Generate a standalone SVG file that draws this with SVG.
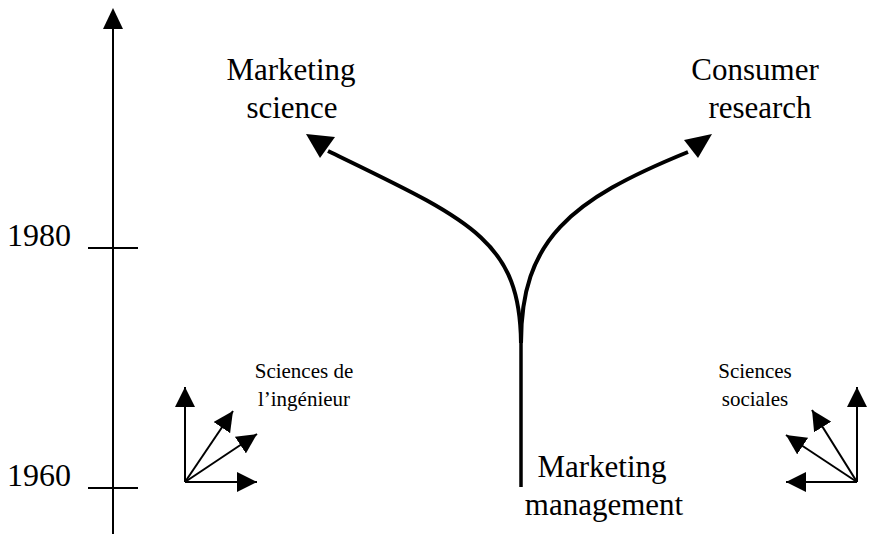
<svg xmlns="http://www.w3.org/2000/svg" width="893" height="534" viewBox="0 0 893 534">
<style>
text{font-family:"Liberation Serif","Times New Roman",serif;fill:#000}
.big{font-size:31px}
.year{font-size:32px}
.small{font-size:21px}
.thin{stroke:#000;stroke-width:2;fill:none}
.thick{stroke:#000;stroke-width:4;fill:none}
.head{fill:#000}
</style>
<defs>
<marker id="ah" markerUnits="userSpaceOnUse" viewBox="0 0 20 20" markerWidth="20" markerHeight="20" refX="20" refY="10" orient="auto">
<path d="M0,0 L20,10 L0,20 z" fill="#000"/>
</marker>
</defs>
<rect width="893" height="534" fill="#fff"/>
<g id="axis">
<line class="thin" x1="113" y1="534" x2="113" y2="28"/>
<polygon class="head" points="113,8 103,29 123,29"/>
<line class="thin" x1="88" y1="248" x2="138" y2="248"/>
<line class="thin" x1="88" y1="488" x2="138" y2="488"/>
<text class="year" x="7" y="246">1980</text>
<text class="year" x="7" y="486">1960</text>
</g>
<g id="connectors">
<line x1="521" y1="487" x2="521" y2="341" stroke="#000" stroke-width="3.5"/>
<path class="thick" d="M521,343 C520,240 470,220 328,151"/>
<path class="thick" d="M521,343 C521,240 570,200 688,152"/>
<polygon class="head" points="306,134 335,137 320,158"/>
<polygon class="head" points="684,140 712,134 698,158"/>
</g>
<g id="node-marketing-science">
<text class="big" x="291" y="80" text-anchor="middle">Marketing</text>
<text class="big" x="292" y="118" text-anchor="middle">science</text>
</g>
<g id="node-consumer-research">
<text class="big" x="755" y="80" text-anchor="middle">Consumer</text>
<text class="big" x="760" y="118" text-anchor="middle">research</text>
</g>
<g id="node-marketing-management">
<text class="big" x="602" y="477" text-anchor="middle">Marketing</text>
<text class="big" x="604" y="515" text-anchor="middle">management</text>
</g>
<g id="node-sciences-ingenieur">
<text class="small" x="304" y="378" text-anchor="middle">Sciences de</text>
<text class="small" x="304" y="406" text-anchor="middle">l’ingénieur</text>
<line class="thin" x1="185" y1="482" x2="185" y2="387" marker-end="url(#ah)"/>
<line class="thin" x1="185" y1="482" x2="257" y2="482" marker-end="url(#ah)"/>
<line class="thin" x1="185" y1="482" x2="233" y2="411" marker-end="url(#ah)"/>
<line class="thin" x1="185" y1="482" x2="257" y2="434" marker-end="url(#ah)"/>
</g>
<g id="node-sciences-sociales">
<text class="small" x="755" y="378" text-anchor="middle">Sciences</text>
<text class="small" x="755" y="406" text-anchor="middle">sociales</text>
<line class="thin" x1="857" y1="482" x2="857" y2="387" marker-end="url(#ah)"/>
<line class="thin" x1="857" y1="482" x2="786" y2="482" marker-end="url(#ah)"/>
<line class="thin" x1="857" y1="482" x2="812" y2="410" marker-end="url(#ah)"/>
<line class="thin" x1="857" y1="482" x2="786" y2="435" marker-end="url(#ah)"/>
</g>
</svg>
